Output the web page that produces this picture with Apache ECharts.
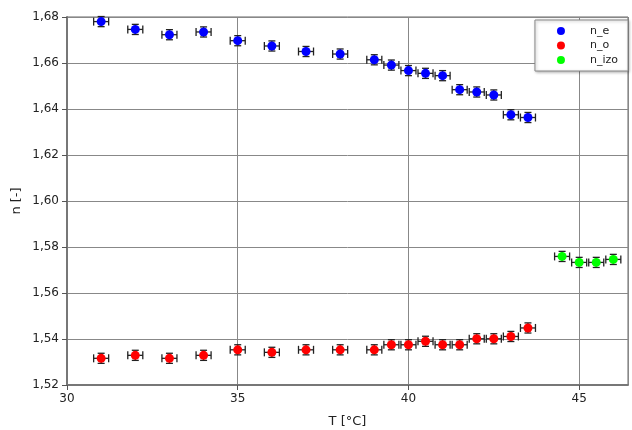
<!DOCTYPE html>
<html><head><meta charset="utf-8">
<script src="https://cdn.jsdelivr.net/npm/echarts@6/dist/echarts.min.js"></script>
<style>html,body{margin:0;padding:0;background:#fff}#c{width:632px;height:430px}</style>
</head><body><div id="c"></div>
<script>
var tE = [31,32,33,34,35,36,37,38,39,39.5,40,40.5,41,41.5,42,42.5,43,43.5];
var nE = [1.678,1.6746,1.6723,1.6735,1.6697,1.6674,1.665,1.6639,1.6614,1.6591,1.6567,1.6555,1.6545,1.6484,1.6474,1.6461,1.6375,1.6363];
var tO = [31,32,33,34,35,36,37,38,39,39.5,40,40.5,41,41.5,42,42.5,43,43.5];
var nO = [1.5316,1.5329,1.5316,1.5329,1.5353,1.5342,1.5353,1.5353,1.5353,1.5375,1.5375,1.5390,1.5375,1.5375,1.5401,1.5401,1.5411,1.5448];
var tI = [44.5,45,45.5,46];
var nI = [1.5759,1.5733,1.5733,1.5746];
var errT = 0.22;
var errN = 0.0022;
var yTicks = ['1,52','1,54','1,56','1,58','1,60','1,62','1,64','1,66','1,68'];

function pts(t, n){ return t.map(function(v,i){ return [v, n[i]]; }); }

function errSeries(t, n){
  return {
    type:'custom', silent:true, z:3,
    data: pts(t,n),
    renderItem: function(params, api){
      var x = api.value(0), y = api.value(1);
      var l = api.coord([x-errT, y]), r = api.coord([x+errT, y]);
      var tp = api.coord([x, y+errN]), bt = api.coord([x, y-errN]);
      var cap = 4, vcap = 3.5;
      var st = {stroke:'#222', lineWidth:1.3};
      return {type:'group', children:[
        {type:'line', shape:{x1:l[0],y1:l[1],x2:r[0],y2:r[1]}, style:st},
        {type:'line', shape:{x1:l[0],y1:l[1]-cap,x2:l[0],y2:l[1]+cap}, style:st},
        {type:'line', shape:{x1:r[0],y1:r[1]-cap,x2:r[0],y2:r[1]+cap}, style:st},
        {type:'line', shape:{x1:tp[0],y1:tp[1],x2:bt[0],y2:bt[1]}, style:st},
        {type:'line', shape:{x1:tp[0]-vcap,y1:tp[1],x2:tp[0]+vcap,y2:tp[1]}, style:st},
        {type:'line', shape:{x1:bt[0]-vcap,y1:bt[1],x2:bt[0]+vcap,y2:bt[1]}, style:st}
      ]};
    }
  };
}

var chart = echarts.init(document.getElementById('c'));
var font = 'DejaVu Sans';
chart.setOption({
  animation:false,
  textStyle:{fontFamily:font},
  grid:{left:67, right:4, top:17, bottom:45, containLabel:false, outerBoundsMode:'none',
        show:true, borderColor:'#666', borderWidth:1},
  legend:{
    right:4, top:20, orient:'vertical', itemWidth:8, itemHeight:8, itemGap:3.5,
    backgroundColor:'#fff', borderColor:'#888', borderWidth:1,
    padding:[5.5,10,5.5,22],
    textStyle:{fontFamily:font, fontSize:11, color:'#222', padding:[0,0,0,20]},
    data:[{name:'n_e',icon:'circle'},{name:'n_o',icon:'circle'},{name:'n_izo',icon:'circle'}],
    shadowColor:'rgba(0,0,0,0.3)', shadowBlur:3, shadowOffsetX:1, shadowOffsetY:1
  },
  xAxis:{
    type:'value', min:30, max:46.43, interval:5,
    name:'T [°C]', nameLocation:'middle', nameGap:30,
    nameTextStyle:{fontFamily:font, fontSize:13, color:'#222'},
    axisLine:{lineStyle:{color:'#777', width:2}},
    axisTick:{show:true, length:5, lineStyle:{color:'#555'}},
    axisLabel:{fontFamily:font, fontSize:12, color:'#222', margin:8, showMaxLabel:false},
    splitLine:{show:true, lineStyle:{color:'#888', width:1}}
  },
  yAxis:{
    type:'value', min:1.52, max:1.68, interval:0.02,
    name:'n [-]', nameLocation:'middle', nameGap:44, nameRotate:90, nameMoveOverlap:false,
    nameTextStyle:{fontFamily:font, fontSize:13, color:'#222'},
    axisLine:{show:true, lineStyle:{color:'#777', width:2}},
    axisTick:{show:true, length:5, lineStyle:{color:'#555'}},
    axisLabel:{fontFamily:font, fontSize:12, color:'#222', margin:8,
      formatter:function(v){ var i=Math.round((v-1.52)/0.02); return yTicks[i]; }},
    splitLine:{show:true, lineStyle:{color:'#888', width:1}}
  },
  series:[
    errSeries(tE,nE), errSeries(tO,nO), errSeries(tI,nI),
    {name:'n_e', type:'scatter', z:5, symbol:'circle', symbolSize:9, itemStyle:{color:'#0000ff', opacity:1}, data:pts(tE,nE)},
    {name:'n_o', type:'scatter', z:5, symbol:'circle', symbolSize:9, itemStyle:{color:'#ff0000', opacity:1}, data:pts(tO,nO)},
    {name:'n_izo', type:'scatter', z:5, symbol:'circle', symbolSize:9, itemStyle:{color:'#00ff00', opacity:1}, data:pts(tI,nI)}
  ]
});
</script></body></html>
